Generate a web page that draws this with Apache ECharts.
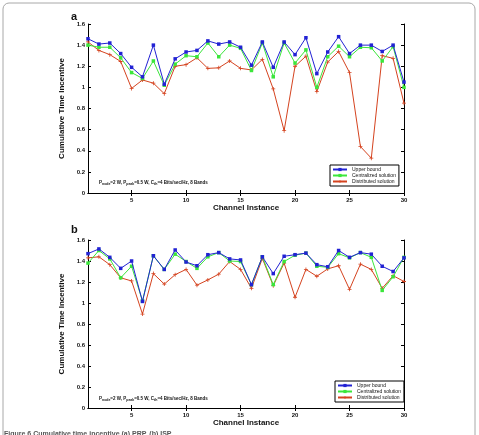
<!DOCTYPE html>
<html>
  <meta charset="UTF-8">
  <title>Cumulative time incentive</title>
  <style type="text/css">
    html,body{margin:0px;height:100%;width:100%;background:#fff}
    .container{width:479px;height:435px}
  </style>
  <script type="text/javascript" src="https://cdn.jsdelivr.net/npm/echarts@6/dist/echarts.min.js"></script>
  <body>
    <div id="main" class="container"></div>
    <script>
      // channel instances 1..30
      var channels = [];
      for (var i = 1; i <= 30; i++) channels.push(i);
      var xTicks = [5, 10, 15, 20, 25, 30];
      var seriesNames = ['Upper bound', 'Centralized solution', 'Distributed solution'];

      // (a) PRP
      var upperA = [1.46,1.41,1.42,1.32,1.19,1.10,1.40,1.03,1.27,1.335,1.35,1.44,1.41,1.43,1.38,1.21,1.43,1.19,1.43,1.31,1.47,1.13,1.335,1.48,1.32,1.40,1.40,1.34,1.40,1.05];
      var centralA = [1.40,1.38,1.38,1.28,1.14,1.085,1.25,1.02,1.22,1.30,1.29,1.42,1.29,1.40,1.37,1.16,1.42,1.10,1.42,1.23,1.355,1.00,1.29,1.39,1.29,1.38,1.375,1.25,1.385,1.00];
      var distribA = [1.43,1.35,1.31,1.245,0.99,1.07,1.04,0.94,1.20,1.215,1.28,1.18,1.185,1.25,1.18,1.165,1.265,0.985,0.59,1.20,1.295,0.96,1.24,1.34,1.14,0.44,0.33,1.30,1.275,0.85];

      // (b) ISP
      var upperB = [1.47,1.515,1.435,1.33,1.40,1.015,1.45,1.32,1.505,1.39,1.355,1.46,1.48,1.42,1.41,1.175,1.44,1.28,1.445,1.46,1.475,1.365,1.345,1.50,1.435,1.48,1.465,1.35,1.30,1.43];
      var centralB = [1.38,1.50,1.42,1.24,1.35,1.02,1.45,1.32,1.465,1.395,1.33,1.44,1.48,1.40,1.395,1.175,1.44,1.175,1.395,1.455,1.475,1.35,1.34,1.47,1.43,1.48,1.435,1.12,1.25,1.435];
      var distribB = [1.43,1.44,1.365,1.24,1.21,0.895,1.28,1.18,1.27,1.32,1.17,1.22,1.275,1.395,1.32,1.14,1.425,1.165,1.38,1.055,1.32,1.255,1.325,1.355,1.13,1.37,1.32,1.14,1.26,1.205];

      var colors = ['#2222d4', '#3be63b', '#d5431f'];
      var plusPath = 'path://M4,0H6V4H10V6H6V10H4V6H0V4H4Z';
      var font = 'Liberation Sans, Arial, sans-serif';

      function pairs(arr) {
        return arr.map(function (v, i) { return [channels[i], v]; });
      }

      var grids = [
        { left: 88, right: 75, top: 24, height: 169 },
        { left: 88, right: 75, top: 240, height: 168 }
      ];

      var xAxes = [], yAxes = [], series = [], legends = [];
      grids.forEach(function (g, gi) {
        var lineStyle = { color: '#000', width: 1 };
        xAxes.push({
          type: 'value', gridIndex: gi, min: 1, max: 30,
          name: 'Channel Instance', nameLocation: 'middle', nameGap: 11,
          nameTextStyle: { fontFamily: font, fontWeight: 'bold', fontSize: 8, color: '#111' },
          axisLine: { lineStyle: lineStyle },
          axisTick: { inside: true, length: 3, customValues: xTicks, lineStyle: lineStyle },
          axisLabel: { customValues: xTicks, margin: 4, fontFamily: font, fontWeight: 'bold', fontSize: 6, color: '#111' },
          splitLine: { show: false }
        });
        xAxes.push({
          type: 'value', gridIndex: gi, min: 1, max: 30, position: 'top',
          axisLine: { lineStyle: lineStyle },
          axisTick: { inside: true, length: 3, customValues: xTicks, lineStyle: lineStyle },
          axisLabel: { show: false }, splitLine: { show: false }
        });
        yAxes.push({
          type: 'value', gridIndex: gi, min: 0, max: 1.6, interval: 0.2,
          name: 'Cumulative Time Incentive', nameLocation: 'middle', nameGap: 13,
          nameTextStyle: { fontFamily: font, fontWeight: 'bold', fontSize: 8, color: '#111' },
          axisLine: { show: true, lineStyle: lineStyle },
          axisTick: { show: true, inside: true, length: 3, lineStyle: lineStyle },
          axisLabel: { margin: 3, fontFamily: font, fontWeight: 'bold', fontSize: 6, color: '#111' },
          splitLine: { show: false }
        });
        yAxes.push({
          type: 'value', gridIndex: gi, min: 0, max: 1.6, interval: 0.2, position: 'right',
          axisLine: { show: true, lineStyle: lineStyle },
          axisTick: { show: true, inside: true, length: 3, lineStyle: lineStyle },
          axisLabel: { show: false }, splitLine: { show: false }
        });
      });

      var dataSets = [[upperA, centralA, distribA], [upperB, centralB, distribB]];
      var symbols = ['rect', 'rect', plusPath];
      dataSets.forEach(function (set, gi) {
        set.forEach(function (arr, si) {
          series.push({
            name: seriesNames[si], type: 'line',
            xAxisIndex: gi * 2, yAxisIndex: gi * 2,
            data: pairs(arr),
            symbol: symbols[si], symbolSize: si === 2 ? 4 : 3.5,
            showAllSymbol: true,
            lineStyle: { color: colors[si], width: 1 },
            itemStyle: { color: colors[si] },
            z: 3 - si,
            animation: false
          });
        });
      });

      legends.push({
        data: seriesNames, orient: 'vertical', left: 330, top: 165,
        width: 61, itemWidth: 14, itemHeight: 4, itemGap: 1, padding: [2, 3, 2, 2],
        borderColor: '#000', borderWidth: 1, backgroundColor: '#fff',
        textStyle: { fontFamily: font, fontSize: 5, color: '#111' }
      });
      legends.push({
        data: seriesNames, orient: 'vertical', left: 335, top: 381,
        width: 60, itemWidth: 14, itemHeight: 4, itemGap: 1, padding: [2, 3, 2, 2],
        borderColor: '#000', borderWidth: 1, backgroundColor: '#fff',
        textStyle: { fontFamily: font, fontSize: 5, color: '#111' }
      });

      function note(x, y) {
        return {
          type: 'text', left: x, top: y, z: 10,
          style: {
            text: 'P{s|node}=2 W, P{s|peak}=0.5 W, C{s|th}=4 Bits/sec/Hz, 8 Bands',
            fontFamily: font, fontSize: 4.5, fontWeight: 'bold', fill: '#111',
            rich: { s: { fontSize: 3.5, fontWeight: 'bold', padding: [3, 0, 0, 0] } }
          }
        };
      }

      var chart = echarts.init(document.getElementById('main'), null, { renderer: 'canvas' });
      chart.setOption({
        animation: false,
        backgroundColor: '#fff',
        grid: grids,
        xAxis: xAxes,
        yAxis: yAxes,
        legend: legends,
        series: series,
        graphic: [
          { type: 'rect', shape: { x: 3, y: 3, width: 472, height: 445, r: 6 },
            style: { fill: 'none', stroke: '#a8a8a8', lineWidth: 1 }, z: 0 },
          { type: 'text', left: 71, top: 11, style: { text: 'a', fontFamily: font, fontWeight: 'bold', fontSize: 11, fill: '#111' } },
          { type: 'text', left: 71, top: 224, style: { text: 'b', fontFamily: font, fontWeight: 'bold', fontSize: 11, fill: '#111' } },
          note(99, 180),
          note(99, 396),
          { type: 'text', left: 4, top: 431, style: { text: 'Figure 6 Cumulative time incentive (a) PRP, (b) ISP.', fontFamily: font, fontWeight: 'bold', fontSize: 7, fill: '#555' } }
        ]
      });
    </script>
  </body>
</html>
